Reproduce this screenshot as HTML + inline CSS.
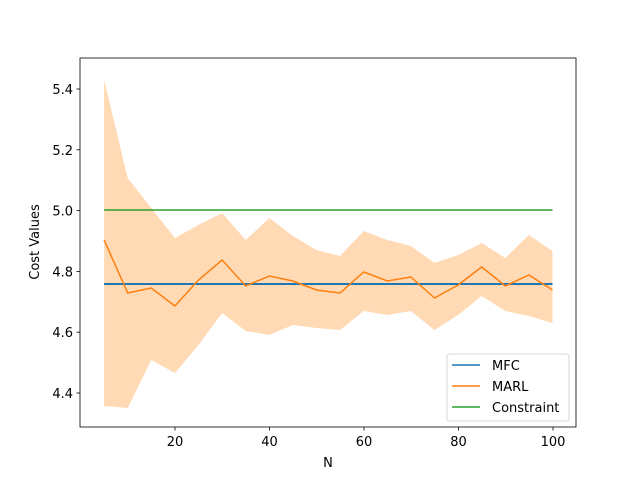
<!DOCTYPE html>
<html><head><style>body{margin:0;background:#fff}svg{display:block}</style></head>
<body>
<svg width="640" height="480" xmlns="http://www.w3.org/2000/svg" font-family="DejaVu Sans, sans-serif" font-size="13">
<rect width="640" height="480" fill="#fff"/>
<polygon fill="#ffbb78" fill-opacity="0.55" points="104.1,80 127.7,178 151.3,208 174.9,238 198.5,225 222.1,213 245.7,240 269.3,218 292.9,236 316.5,250 340.1,256 363.7,231 387.3,240 410.9,246 434.5,263 458.1,255 481.7,243 505.3,258 528.9,235 552.5,251 552.5,323 528.9,316 505.3,311 481.7,296 458.1,315 434.5,330 410.9,311 387.3,315 363.7,311 340.1,330 316.5,328 292.9,325 269.3,335 245.7,331 222.1,313 198.5,345 174.9,373 151.3,360 127.7,408 104.1,406"/>
<line x1="104.1" y1="284" x2="552.5" y2="284" stroke="#1f77b4" stroke-width="2"/>
<polyline fill="none" stroke="#ff7f0e" stroke-width="1.5" points="104.1,240 127.7,293 151.3,288 174.9,306 198.5,280 222.1,260 245.7,286 269.3,276 292.9,281 316.5,290 340.1,293 363.7,272 387.3,281 410.9,277 434.5,298 458.1,285 481.7,267 505.3,286 528.9,275 552.5,290"/>
<line x1="104.1" y1="210" x2="552.5" y2="210" stroke="#2ca02c" stroke-width="1.5"/>
<rect x="80" y="58" width="496" height="369" fill="none" stroke="#000" stroke-width="0.8"/>
<g stroke="#000" stroke-width="0.8">
<line x1="175" y1="427" x2="175" y2="430.5"/><line x1="269.5" y1="427" x2="269.5" y2="430.5"/><line x1="364" y1="427" x2="364" y2="430.5"/><line x1="458.5" y1="427" x2="458.5" y2="430.5"/><line x1="553" y1="427" x2="553" y2="430.5"/>
<line x1="76.5" y1="89" x2="80" y2="89"/><line x1="76.5" y1="149.8" x2="80" y2="149.8"/><line x1="76.5" y1="210.6" x2="80" y2="210.6"/><line x1="76.5" y1="271.4" x2="80" y2="271.4"/><line x1="76.5" y1="332.2" x2="80" y2="332.2"/><line x1="76.5" y1="393" x2="80" y2="393"/>
</g>
<g text-anchor="middle">
<text x="175" y="446">20</text><text x="269.5" y="446">40</text><text x="364" y="446">60</text><text x="458.5" y="446">80</text><text x="553" y="446">100</text>
<text x="328" y="467">N</text>
</g>
<g text-anchor="end">
<text x="73" y="94">5.4</text><text x="73" y="154.8">5.2</text><text x="73" y="215.6">5.0</text><text x="73" y="276.4">4.8</text><text x="73" y="337.2">4.6</text><text x="73" y="398">4.4</text>
</g>
<text transform="translate(39,242) rotate(-90)" text-anchor="middle">Cost Values</text>
<rect x="447" y="354" width="122" height="67" rx="2" fill="#fff" fill-opacity="0.8" stroke="#ccc" stroke-width="0.8"/>
<line x1="452" y1="365" x2="480" y2="365" stroke="#1f77b4" stroke-width="1.5"/>
<line x1="452" y1="386" x2="480" y2="386" stroke="#ff7f0e" stroke-width="1.5"/>
<line x1="452" y1="407" x2="480" y2="407" stroke="#2ca02c" stroke-width="1.5"/>
<text x="492" y="370">MFC</text><text x="492" y="391">MARL</text><text x="492" y="412">Constraint</text>
</svg>
</body></html>
